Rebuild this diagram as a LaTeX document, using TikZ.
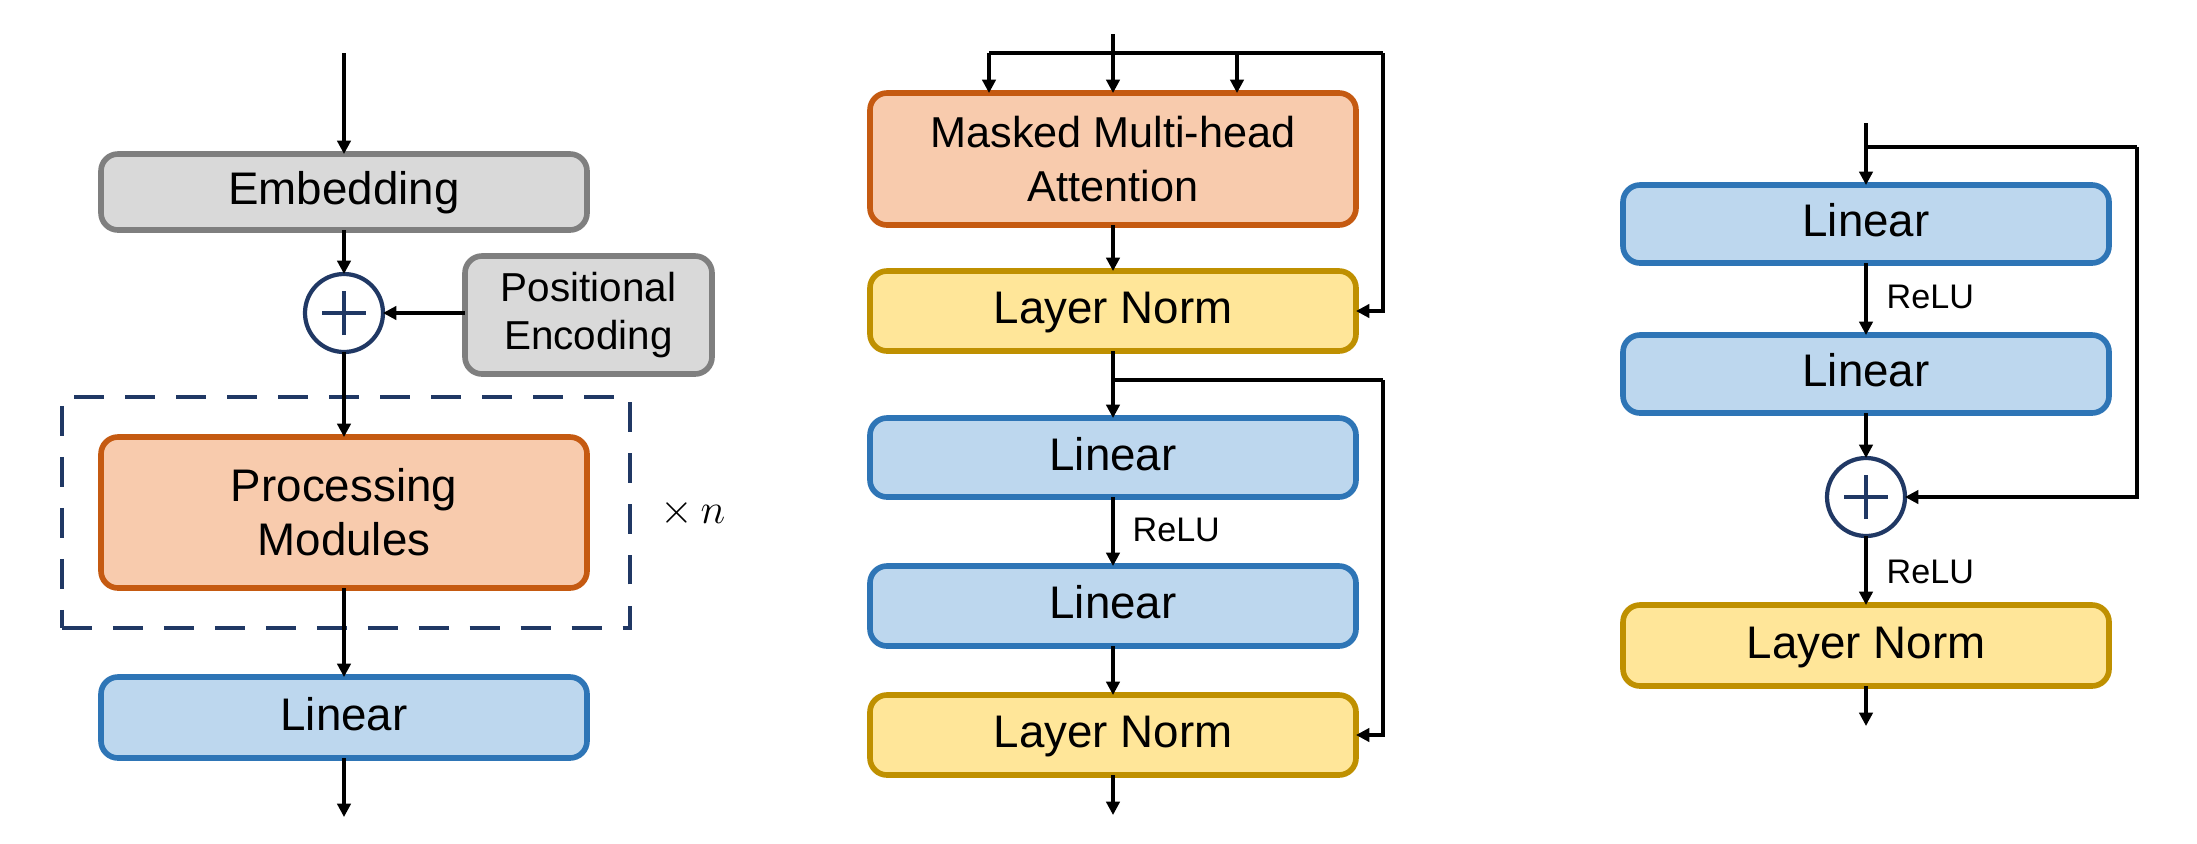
\documentclass[tikz,border=0pt]{standalone}
\usepackage{fontspec}
\setmainfont{Liberation Sans}
\usepackage{tikz}
\usetikzlibrary{calc,positioning,arrows.meta}
\definecolor{GrayFill}{HTML}{D9D9D9}
\definecolor{GrayLine}{HTML}{7F7F7F}
\definecolor{OrgFill}{HTML}{F8CBAD}
\definecolor{OrgLine}{HTML}{C55A11}
\definecolor{BluFill}{HTML}{BDD7EE}
\definecolor{BluLine}{HTML}{2E75B6}
\definecolor{YelFill}{HTML}{FFE699}
\definecolor{YelLine}{HTML}{BF9000}
\definecolor{Navy}{HTML}{203864}
\tikzset{
 tf box/.style={rectangle,rounded corners=0.17cm,line width=1.6pt,align=center,
                minimum width=4.86cm,inner sep=0pt,outer sep=0pt,
                font=\fontsize{13}{15.3}\selectfont},
 tf one/.style={text height=0.716em,text depth=0pt},
 tf gray/.style={draw=GrayLine,fill=GrayFill},
 tf orange/.style={draw=OrgLine,fill=OrgFill},
 tf blue/.style={draw=BluLine,fill=BluFill},
 tf yellow/.style={draw=YelLine,fill=YelFill},
 tf sum/.style={circle,draw=Navy,fill=white,line width=1.2pt,minimum size=0.78cm,
                inner sep=0pt,outer sep=0pt},
 tf plus/.style={draw=Navy,line width=1.2pt},
 tf repeat/.style={draw=Navy,line width=1.4pt,dash pattern=on 8.5pt off 6pt,
                   minimum width=5.68cm,minimum height=2.31cm,inner sep=0pt},
 tf arrow/.style={line width=0.9pt,-{Triangle[length=3.8pt,width=3.8pt]}},
 tf line/.style={line width=0.9pt},
 tf label/.style={font=\fontsize{9.7}{11}\selectfont,anchor=west,inner sep=0pt}
}
\newcommand{\plussign}[1]{%
  \draw[tf plus] ($(#1)+(-.22,0)$)--($(#1)+(.22,0)$);
  \draw[tf plus] ($(#1)+(0,-.22)$)--($(#1)+(0,.22)$);}

\begin{document}
\begin{tikzpicture}
 \useasboundingbox (0,0) rectangle (21.97,-8.43);
 % (a) overall model
 \coordinate (in1) at (3.44,-0.53);
 \node[tf box,tf one,tf gray,minimum height=0.76cm] (emb) at (3.44,-1.92) {Embedding};
 \node[tf sum] (sum1) at (3.44,-3.13) {};
 \plussign{sum1}
 \node[tf box,tf gray,minimum width=2.47cm,minimum height=1.18cm,
       font=\fontsize{11.5}{13.5}\selectfont] (pos) at (5.885,-3.15) {Positional\\Encoding};
 \node[tf repeat] (rep) at (3.46,-5.125) {};
 \node[tf box,tf orange,minimum height=1.51cm] (proc) at (3.44,-5.125) {Processing\\Modules};
 \node[font=\fontsize{13}{15}\selectfont] (times) at (6.93,-5.13) {$\times\,n$};
 \node[tf box,tf one,tf blue,minimum height=0.81cm] (lin1) at (3.44,-7.175) {Linear};
 \coordinate (out1) at (3.44,-8.17);
 \draw[tf arrow] (in1)--(emb);
 \draw[tf arrow] (emb)--(sum1);
 \draw[tf arrow] (pos.west |- sum1)--(sum1);
 \draw[tf arrow] (sum1)--(proc);
 \draw[tf arrow] (proc)--(lin1);
 \draw[tf arrow] (lin1)--(out1);

 % (b) attention block
 \coordinate (in2) at (11.13,-0.34);
 \coordinate (split2) at (11.13,-0.53);
 \coordinate (q2) at (9.89,-0.53);
 \coordinate (k2) at (12.37,-0.53);
 \coordinate (r2) at (13.83,-0.53);
 \node[tf box,tf orange,minimum height=1.32cm,font=\fontsize{12.3}{15.3}\selectfont]
   (mha) at (11.13,-1.59) {Masked Multi-head\\Attention};
 \node[tf box,tf one,tf yellow,minimum height=0.80cm] (ln1) at (11.13,-3.11) {Layer Norm};
 \coordinate (split2b) at (11.13,-3.80);
 \coordinate (r2b) at (13.83,-3.80);
 \node[tf box,tf one,tf blue,minimum height=0.79cm] (lin2a) at (11.13,-4.575) {Linear};
 \node[tf box,tf one,tf blue,minimum height=0.80cm] (lin2b) at (11.13,-6.06) {Linear};
 \node[tf box,tf one,tf yellow,minimum height=0.80cm] (ln2) at (11.13,-7.35) {Layer Norm};
 \coordinate (out2) at (11.13,-8.15);
 \node[tf label] (relu2) at (11.32,-5.30) {ReLU};
 \draw[tf arrow] (in2)--(mha);
 \draw[tf line] (q2)--(r2);
 \draw[tf arrow] (q2)--(q2 |- mha.north);
 \draw[tf arrow] (k2)--(k2 |- mha.north);
 \draw[tf arrow] (r2)|-(ln1.east);
 \draw[tf arrow] (mha)--(ln1);
 \draw[tf arrow] (ln1)--(lin2a);
 \draw[tf line] (split2b)--(r2b);
 \draw[tf arrow] (r2b)|-(ln2.east);
 \draw[tf arrow] (lin2a)--(lin2b);
 \draw[tf arrow] (lin2b)--(ln2);
 \draw[tf arrow] (ln2)--(out2);

 % (c) feed-forward block
 \coordinate (in3) at (18.66,-1.23);
 \coordinate (split3) at (18.66,-1.47);
 \coordinate (r3) at (21.37,-1.47);
 \node[tf box,tf one,tf blue,minimum height=0.78cm] (lin3a) at (18.66,-2.24) {Linear};
 \node[tf box,tf one,tf blue,minimum height=0.78cm] (lin3b) at (18.66,-3.74) {Linear};
 \node[tf sum] (sum3) at (18.66,-4.97) {};
 \plussign{sum3}
 \node[tf box,tf one,tf yellow,minimum height=0.81cm] (ln3) at (18.66,-6.455) {Layer Norm};
 \coordinate (out3) at (18.66,-7.26);
 \node[tf label] (relu3a) at (18.86,-2.97) {ReLU};
 \node[tf label] (relu3b) at (18.86,-5.72) {ReLU};
 \draw[tf arrow] (in3)--(lin3a);
 \draw[tf line] (split3)--(r3);
 \draw[tf arrow] (r3)|-(sum3.east);
 \draw[tf arrow] (lin3a)--(lin3b);
 \draw[tf arrow] (lin3b)--(sum3);
 \draw[tf arrow] (sum3)--(ln3);
 \draw[tf arrow] (ln3)--(out3);
\end{tikzpicture}
\end{document}
